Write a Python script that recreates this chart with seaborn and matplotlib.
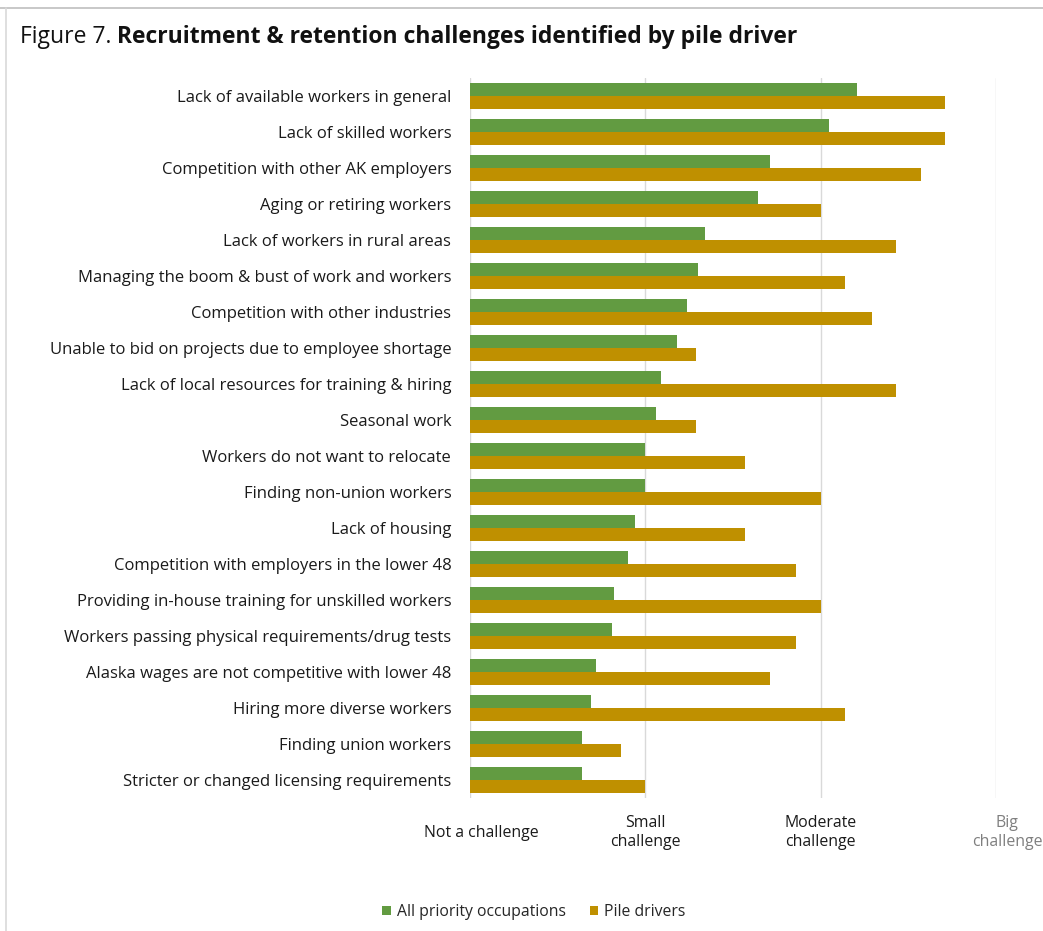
import matplotlib
matplotlib.use("Agg")
import matplotlib.pyplot as plt
from matplotlib.lines import Line2D
from matplotlib.patches import Patch
from matplotlib.transforms import ScaledTranslation
import seaborn as sns
import pandas as pd

# Challenge ratings: 1 = not a challenge ... 4 = big challenge
challenges = [
    "Lack of available workers in general",
    "Lack of skilled workers",
    "Competition with other AK employers",
    "Aging or retiring workers",
    "Lack of workers in rural areas",
    "Managing the boom & bust of work and workers",
    "Competition with other industries",
    "Unable to bid on projects due to employee shortage",
    "Lack of local resources for training & hiring",
    "Seasonal work",
    "Workers do not want to relocate",
    "Finding non-union workers",
    "Lack of housing",
    "Competition with employers in the lower 48",
    "Providing in-house training for unskilled workers",
    "Workers passing physical requirements/drug tests",
    "Alaska wages are not competitive with lower 48",
    "Hiring more diverse workers",
    "Finding union workers",
    "Stricter or changed licensing requirements",
]
all_priority = [3.21, 3.05, 2.71, 2.64, 2.34, 2.30, 2.24, 2.18, 2.09, 2.06,
                2.00, 2.00, 1.94, 1.90, 1.82, 1.81, 1.72, 1.69, 1.64, 1.64]
pile_drivers = [3.71, 3.71, 3.57, 3.00, 3.43, 3.14, 3.29, 2.29, 3.43, 2.29,
                2.57, 3.00, 2.57, 2.86, 3.00, 2.86, 2.71, 3.14, 1.86, 2.00]
series_names = ["All priority occupations", "Pile drivers"]
tick_values = [1, 2, 3, 4]
tick_labels = ["Not a challenge", "Small\nchallenge", "Moderate\nchallenge", "Big\nchallenge"]

GREEN = "#629B41"
GOLD = "#BF9000"

df = pd.DataFrame({
    "challenge": challenges * 2,
    "rating": all_priority + pile_drivers,
    "group": [series_names[0]] * len(challenges) + [series_names[1]] * len(challenges),
})

sns.set_theme(style="white")
plt.rcParams["font.family"] = ["Open Sans", "DejaVu Sans"]

fig = plt.figure(figsize=(10.43, 9.31), dpi=100)
ax = fig.add_axes([470 / 1043, 1 - 798 / 931, 526 / 1043, 720 / 931])

sns.barplot(data=df, x="rating", y="challenge", hue="group", orient="h",
            palette=[GREEN, GOLD], width=0.72, saturation=1, ax=ax,
            legend=False, linewidth=0)

ax.set_xlim(1, 4)
ax.set_ylim(len(challenges) - 0.5, -0.5)
for v in tick_values:
    ax.axvline(v, color="#D9D9D9", lw=1, zorder=0)
ax.set_axisbelow(True)
for s in ax.spines.values():
    s.set_visible(False)
ax.set_xlabel("")
ax.set_ylabel("")

ax.tick_params(axis="y", length=0, pad=13.5, labelsize=12, labelcolor="#1a1a1a")
ax.set_xticks(tick_values)
ax.set_xticklabels(tick_labels)
ax.tick_params(axis="x", length=0, pad=25, labelsize=11.4, labelcolor="#1a1a1a")
xl = ax.get_xticklabels()
for lab in xl:
    lab.set_verticalalignment("center")
    lab.set_linespacing(1.25)
for i in (0, 3):
    lab = xl[i]
    lab.set_transform(lab.get_transform() + ScaledTranslation(11 / 100, 0, fig.dpi_scale_trans))
xl[3].set_color("#7F7F7F")

# Title: plain prefix followed by bold heading
t1 = fig.text(20 / 1043, 1 - 37 / 931, "Figure 7. ", fontsize=16.5, va="center", ha="left",
              color="#111111")
fig.canvas.draw()
bb = t1.get_window_extent()
fig.text(bb.x1 / fig.bbox.width, 1 - 37 / 931, "Recruitment & retention challenges identified by pile driver",
         fontsize=16.5, fontweight="bold", va="center", ha="left", color="#111111")

handles = [Patch(facecolor=GREEN, edgecolor="none"), Patch(facecolor=GOLD, edgecolor="none")]
fig.legend(handles, series_names, loc="center", bbox_to_anchor=(534 / 1043, 1 - 912 / 931),
           ncol=2, frameon=False, fontsize=11.3, handlelength=0.55, handleheight=0.55,
           handletextpad=0.4, columnspacing=1.5)

# Frame edges
fig.add_artist(Line2D([0, 1], [1 - 8 / 931, 1 - 8 / 931], transform=fig.transFigure,
                      color="#BFBFBF", lw=1.2))
fig.add_artist(Line2D([6 / 1043, 6 / 1043], [0, 1 - 8 / 931], transform=fig.transFigure,
                      color="#D9D9D9", lw=1.2))

fig.savefig("out.png", dpi=100, facecolor="white")
